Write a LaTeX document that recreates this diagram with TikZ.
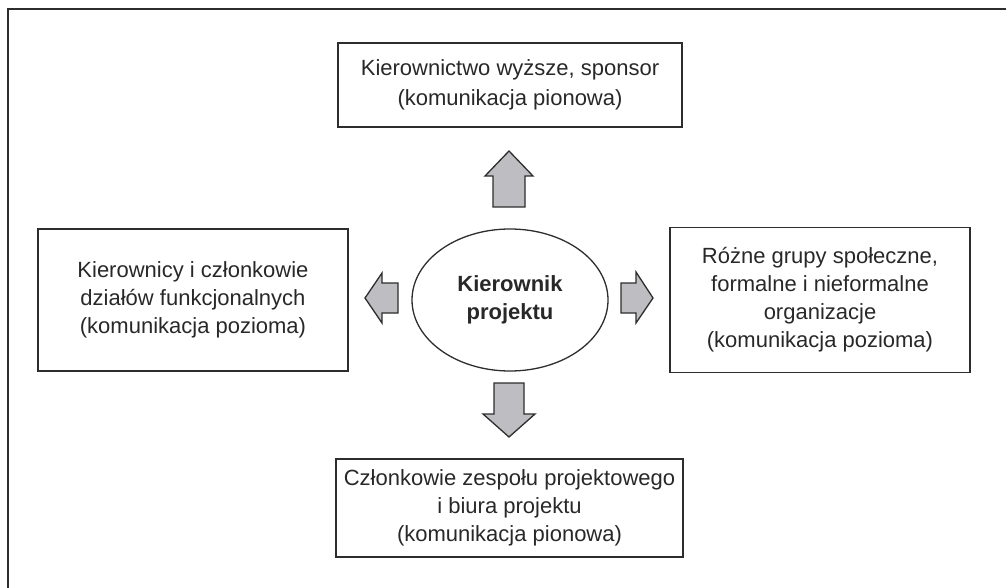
\documentclass[tikz,border=0pt]{standalone}
\usepackage{fontspec}
\setmainfont{Liberation Sans}
\usepackage{xcolor}
\usetikzlibrary{positioning,shapes.geometric}
\definecolor{edgegray}{RGB}{45,45,45}
\definecolor{arrowgray}{RGB}{190,190,194}
\definecolor{inkgray}{RGB}{40,40,40}
\tikzset{
  infobox/.style={draw=edgegray, line width=1.5pt, align=center, inner sep=0pt, text=inkgray, font=\fontsize{22}{28}\selectfont},
  leadbox/.style={ellipse, draw=edgegray, line width=1.3pt, align=center, inner sep=0pt, minimum width=196pt, minimum height=142pt, text=inkgray, font=\fontsize{22}{28}\selectfont\bfseries},
  blockarrow/.style={draw=edgegray, fill=arrowgray, line width=1.3pt, line join=miter}
}

\begin{document}
\begin{tikzpicture}[x=1pt, y=-1pt]
\useasboundingbox (0,0) rectangle (1006,588);
% frame
\draw[edgegray, line width=2pt] (8,588) -- (8,9) -- (1006,9);
% centre and the four groups
\node[leadbox] (lead) at (510,300) {Kierownik\\projektu};
\node[infobox, minimum width=344pt, minimum height=84pt, font=\fontsize{22}{30}\selectfont] (top) at (510,85) {Kierownictwo wyższe, sponsor\\(komunikacja pionowa)};
\node[infobox, minimum width=310pt, minimum height=142pt] (left) at (193,300) {Kierownicy i członkowie\\działów funkcjonalnych\\(komunikacja pozioma)};
\node[infobox, minimum width=300pt, minimum height=145pt] (right) at (820,300) {Różne grupy społeczne,\\formalne i nieformalne\\organizacje\\(komunikacja pozioma)};
\node[infobox, minimum width=347pt, minimum height=98pt] (bottom) at (509.5,508) {Członkowie zespołu projektowego\\i biura projektu\\(komunikacja pionowa)};
% block arrows
\draw[blockarrow] (493,207) -- (493,176) -- (485,176) -- (509,151) -- (533,176) -- (525,176) -- (525,207) -- cycle;
\draw[blockarrow] (494,383) -- (494,414) -- (483,414) -- (509,437) -- (535,414) -- (524,414) -- (524,383) -- cycle;
\draw[blockarrow] (621,283) -- (636,283) -- (636,272) -- (653,298) -- (636,323) -- (636,313) -- (621,313) -- cycle;
\draw[blockarrow] (398,283) -- (382,283) -- (382,273) -- (365,298) -- (382,323) -- (382,313) -- (398,313) -- cycle;
\end{tikzpicture}
\end{document}
